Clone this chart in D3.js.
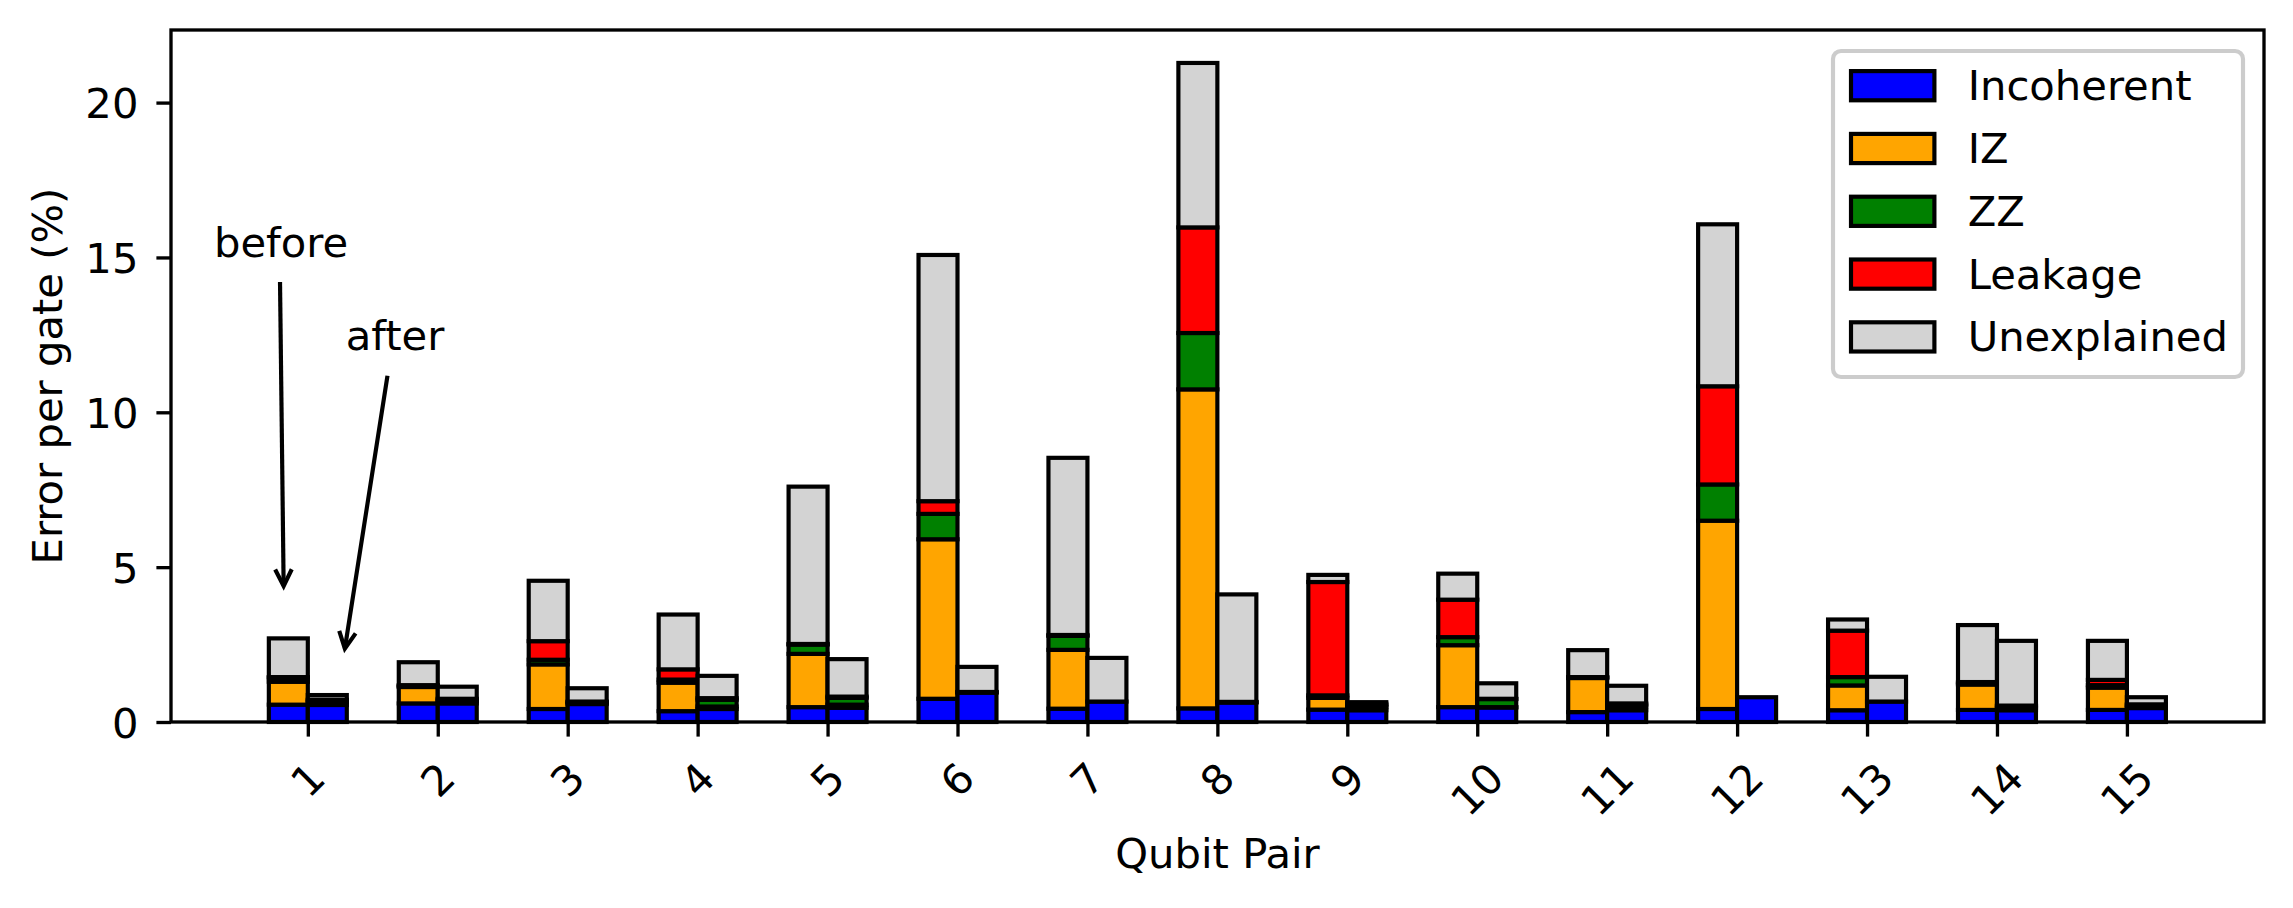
<!DOCTYPE html>
<html>
<head>
<meta charset="utf-8">
<script src="https://cdn.jsdelivr.net/npm/d3@7"></script>
<style>
  body { margin: 0; background: #fff; }
  svg text { font-family: 'DejaVu Sans', sans-serif; fill: #000; }
</style>
</head>
<body>
<svg id="chart"></svg>
<script>
/* qubit pairs (x-axis categories) */
const pairs = [1, 2, 3, 4, 5, 6, 7, 8, 9, 10, 11, 12, 13, 14, 15]

/* error components, stacked bottom to top */
const components = ['Incoherent', 'IZ', 'ZZ', 'Leakage', 'Unexplained']

/* error per gate (%) before the fix */
const incoherentBefore = [0.56, 0.60, 0.42, 0.35, 0.48, 0.75, 0.43, 0.44, 0.40, 0.48, 0.32, 0.42, 0.38, 0.39, 0.39]
const izBefore = [0.74, 0.53, 1.44, 0.92, 1.72, 5.15, 1.90, 10.30, 0.38, 2.00, 1.10, 6.08, 0.80, 0.82, 0.72]
const zzBefore = [0.13, 0.03, 0.15, 0.10, 0.30, 0.82, 0.45, 1.82, 0.08, 0.26, 0.02, 1.17, 0.27, 0.04, 0.08]
const leakageBefore = [0.02, 0.03, 0.60, 0.33, 0.02, 0.41, 0.03, 3.41, 3.66, 1.21, 0.01, 3.17, 1.50, 0.04, 0.17]
const unexplainedBefore = [1.25, 0.74, 1.95, 1.77, 5.08, 7.95, 5.72, 5.31, 0.23, 0.84, 0.87, 5.23, 0.36, 1.84, 1.26]

/* error per gate (%) after the fix */
const incoherentAfter = [0.55, 0.60, 0.58, 0.42, 0.46, 0.95, 0.66, 0.63, 0.38, 0.47, 0.38, 0.80, 0.66, 0.38, 0.45]
const izAfter = [0.10, 0.08, 0.04, 0.08, 0.10, 0.01, 0.00, 0.01, 0.10, 0.01, 0.12, 0.00, 0.00, 0.08, 0.05]
const zzAfter = [0.04, 0.04, 0.02, 0.22, 0.22, 0.01, 0.00, 0.01, 0.06, 0.26, 0.06, 0.00, 0.00, 0.05, 0.05]
const leakageAfter = [0.03, 0.03, 0.02, 0.05, 0.04, 0.00, 0.00, 0.00, 0.05, 0.01, 0.04, 0.00, 0.00, 0.02, 0.02]
const unexplainedAfter = [0.15, 0.39, 0.43, 0.72, 1.21, 0.81, 1.41, 3.47, 0.05, 0.50, 0.57, 0.00, 0.80, 2.09, 0.23]

/* y-axis ticks */
const yTicks = [0, 5, 10, 15, 20]

/* annotations: text anchor, arrow tail and arrow tip in data units */
const annotations = [
  { label: 'before', text: [0.278, 15], tail: [0.786, 14.21], tip: [0.814, 4.39] },
  { label: 'after', text: [1.292, 12], tail: [1.613, 11.18], tip: [1.285, 2.37] }
]

/* colours for each component */
const palette = ['#0000ff', '#ffa500', '#008000', '#ff0000', '#d3d3d3']

/* figure size and plot margins */
const W = 2293
const H = 908
const margin = { top: 30, right: 29, bottom: 186, left: 171 }
const plotW = W - margin.left - margin.right
const plotH = H - margin.top - margin.bottom
const fontSize = 41.7
const barWidth = 0.3

const svg = d3.select('#chart').attr('width', W).attr('height', H)

/* build row objects and stack them */
function makeRows(cols) {
  return pairs.map((p, i) => {
    const row = { pair: p }
    components.forEach((c, j) => (row[c] = cols[j][i]))
    return row
  })
}
const beforeRows = makeRows([incoherentBefore, izBefore, zzBefore, leakageBefore, unexplainedBefore])
const afterRows = makeRows([incoherentAfter, izAfter, zzAfter, leakageAfter, unexplainedAfter])

const stack = d3.stack().keys(components)
const groups = [
  { key: 'before', offset: -barWidth, series: stack(beforeRows) },
  { key: 'after', offset: 0, series: stack(afterRows) }
]

/* scales: matplotlib-like margins on x, 5% headroom on y */
const maxTotal = d3.max(groups, (g) => d3.max(g.series[g.series.length - 1], (d) => d[1]))
const xScale = d3
  .scaleLinear()
  .domain([-0.053, 16.055])
  .range([margin.left, margin.left + plotW])
const yScale = d3
  .scaleLinear()
  .domain([0, maxTotal * 1.05])
  .range([margin.top + plotH, margin.top])

/* draw bars */
groups.forEach((g) => {
  const gg = svg.append('g').attr('class', 'bars-' + g.key)
  g.series.forEach((s, j) => {
    gg.selectAll(null)
      .data(s)
      .join('rect')
      .attr('x', (d) => xScale(d.data.pair + g.offset))
      .attr('width', xScale(barWidth) - xScale(0))
      .attr('y', (d) => yScale(d[1]))
      .attr('height', (d) => yScale(d[0]) - yScale(d[1]))
      .attr('fill', palette[j])
      .attr('stroke', '#000')
      .attr('stroke-width', 4.17)
  })
})

/* y-axis */
const yAxis = svg
  .append('g')
  .attr('transform', `translate(${margin.left},0)`)
  .call(d3.axisLeft(yScale).tickValues(yTicks).tickSize(14.6).tickPadding(18))
yAxis.select('.domain').remove()
yAxis.selectAll('line').attr('stroke-width', 3.33)
yAxis.selectAll('text').style('font-size', fontSize + 'px').attr('dy', '0.36em')

/* x-axis with rotated labels */
const xAxis = svg
  .append('g')
  .attr('transform', `translate(0,${margin.top + plotH})`)
  .call(d3.axisBottom(xScale).tickValues(pairs).tickSize(14.6).tickFormat(''))
xAxis.select('.domain').remove()
xAxis.selectAll('line').attr('stroke-width', 3.33)

const xLabels = svg.append('g').attr('class', 'x-labels')
pairs.forEach((p) => {
  const t = xLabels
    .append('text')
    .text(p)
    .style('font-size', fontSize + 'px')
    .attr('text-anchor', 'middle')
    .attr('dominant-baseline', 'central')
  const w = t.node().getComputedTextLength()
  const yc = 755 + ((w + 44) * Math.SQRT1_2) / 2
  t.attr('transform', `translate(${xScale(p)},${yc}) rotate(-45)`)
})

/* plot frame */
svg
  .append('rect')
  .attr('x', margin.left)
  .attr('y', margin.top)
  .attr('width', plotW)
  .attr('height', plotH)
  .attr('fill', 'none')
  .attr('stroke', '#000')
  .attr('stroke-width', 3.33)

/* axis labels */
svg
  .append('text')
  .attr('x', margin.left + plotW / 2)
  .attr('y', 868)
  .attr('text-anchor', 'middle')
  .style('font-size', fontSize + 'px')
  .text('Qubit Pair')

svg
  .append('text')
  .attr('transform', `translate(61.7,${margin.top + plotH / 2}) rotate(-90)`)
  .attr('text-anchor', 'middle')
  .style('font-size', fontSize + 'px')
  .text('Error per gate (%)')

/* annotations with open arrow heads */
annotations.forEach((a) => {
  svg
    .append('text')
    .attr('x', xScale(a.text[0]))
    .attr('y', yScale(a.text[1]))
    .style('font-size', fontSize + 'px')
    .text(a.label)

  const x0 = xScale(a.tail[0])
  const y0 = yScale(a.tail[1])
  const x1 = xScale(a.tip[0])
  const y1 = yScale(a.tip[1])
  const len = Math.hypot(x1 - x0, y1 - y0)
  const ux = (x1 - x0) / len
  const uy = (y1 - y0) / len
  const hl = 16.7
  const hw = 8.3
  svg
    .append('path')
    .attr('d', `M${x0},${y0}L${x1},${y1}`)
    .attr('stroke', '#000')
    .attr('stroke-width', 4.17)
    .attr('fill', 'none')
  svg
    .append('path')
    .attr(
      'd',
      `M${x1 - ux * hl - uy * hw},${y1 - uy * hl + ux * hw}L${x1},${y1}L${x1 - ux * hl + uy * hw},${y1 - uy * hl - ux * hw}`
    )
    .attr('stroke', '#000')
    .attr('stroke-width', 4.17)
    .attr('stroke-linejoin', 'miter')
    .attr('fill', 'none')
})

/* legend */
const legend = svg.append('g').attr('class', 'legend')
legend
  .append('rect')
  .attr('x', 1833)
  .attr('y', 51)
  .attr('width', 410)
  .attr('height', 326)
  .attr('rx', 8)
  .attr('fill', '#fff')
  .attr('fill-opacity', 0.8)
  .attr('stroke', '#cccccc')
  .attr('stroke-width', 4.17)

components.forEach((c, i) => {
  const cy = 85.7 + i * 62.8
  legend
    .append('rect')
    .attr('x', 1851)
    .attr('y', cy - 14.6)
    .attr('width', 83.4)
    .attr('height', 29.2)
    .attr('fill', palette[i])
    .attr('stroke', '#000')
    .attr('stroke-width', 4.17)
  legend
    .append('text')
    .attr('x', 1967.7)
    .attr('y', cy)
    .attr('dominant-baseline', 'central')
    .style('font-size', fontSize + 'px')
    .text(c)
})
</script>
</body>
</html>
